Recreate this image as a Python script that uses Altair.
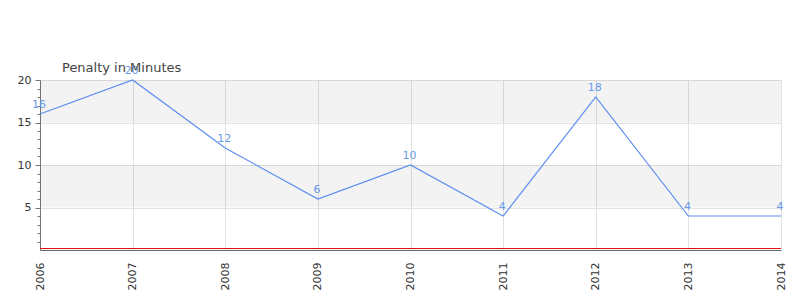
import altair as alt
import pandas as pd

years = [2006, 2007, 2008, 2009, 2010, 2011, 2012, 2013, 2014]
penalty = [16, 20, 12, 6, 10, 4, 18, 4, 4]
band_low = [5, 15]
band_high = [10, 20]
y_tick_values = list(range(1, 21))
title_text = "Penalty in Minutes"

df = pd.DataFrame({"year": years, "penalty": penalty})
bands = pd.DataFrame({"lo": band_low, "hi": band_high})
zero = pd.DataFrame({"z": [0]})

x_scale = alt.Scale(domain=[years[0], years[-1]], nice=False, zero=False)
y_scale = alt.Scale(domain=[0, 20], nice=False)

y_axis = alt.Axis(
    values=y_tick_values, title=None, labelOverlap=False,
    labelExpr="datum.value % 5 === 0 ? datum.label : ''",
    tickSize={"condition": {"test": "datum.value % 5 === 0", "value": 5}, "value": 3},
    gridOpacity={"condition": {"test": "datum.value % 5 === 0", "value": 1}, "value": 0},
    gridColor="#e2e2e2", domainColor="#777", tickColor="#777",
    labelColor="#333", labelFontSize=11, labelFont="DejaVu Sans",
    labelPadding=4)

x_axis = alt.Axis(values=years, format="d", title=None, labelAngle=270,
                  labelAlign="right", labelBaseline="middle",
                  ticks=False, labelPadding=12, gridColor="#e2e2e2",
                  domainColor="#666", labelColor="#333",
                  labelFontSize=11, labelFont="DejaVu Sans")

band_layer = alt.Chart(bands).mark_rect(color="#000000", opacity=0.048).encode(
    y=alt.Y("lo:Q", scale=y_scale, axis=y_axis),
    y2="hi:Q",
)

line = alt.Chart(df).mark_line(color="#5b8def", strokeWidth=1.2).encode(
    x=alt.X("year:Q", scale=x_scale, axis=x_axis),
    y=alt.Y("penalty:Q", scale=y_scale, axis=y_axis),
)

labels = alt.Chart(df).mark_text(color="#6a9ae8", fontSize=11, font="DejaVu Sans",
                                 dy=-9, dx=-1).encode(
    x=alt.X("year:Q", scale=x_scale, axis=x_axis),
    y=alt.Y("penalty:Q", scale=y_scale, axis=y_axis),
    text="penalty:Q",
)

baseline = alt.Chart(zero).mark_rule(color="#dd1111", strokeWidth=1, yOffset=-1.5).encode(
    y=alt.Y("z:Q", scale=y_scale, axis=y_axis),
)

chart = alt.layer(band_layer, line, baseline, labels).properties(
    width=741, height=170,
    title=alt.TitleParams(title_text, anchor="start", fontSize=13, font="DejaVu Sans",
                          fontWeight="normal", color="#444", dx=22, dy=18, offset=8,
                          frame="group"),
    autosize=alt.AutoSizeParams(type="none"),
    padding={"left": 40, "top": 80, "right": 19, "bottom": 50},
).configure_view(stroke=None)

chart.save("out.html", embed_options={"renderer": "svg", "actions": False})
